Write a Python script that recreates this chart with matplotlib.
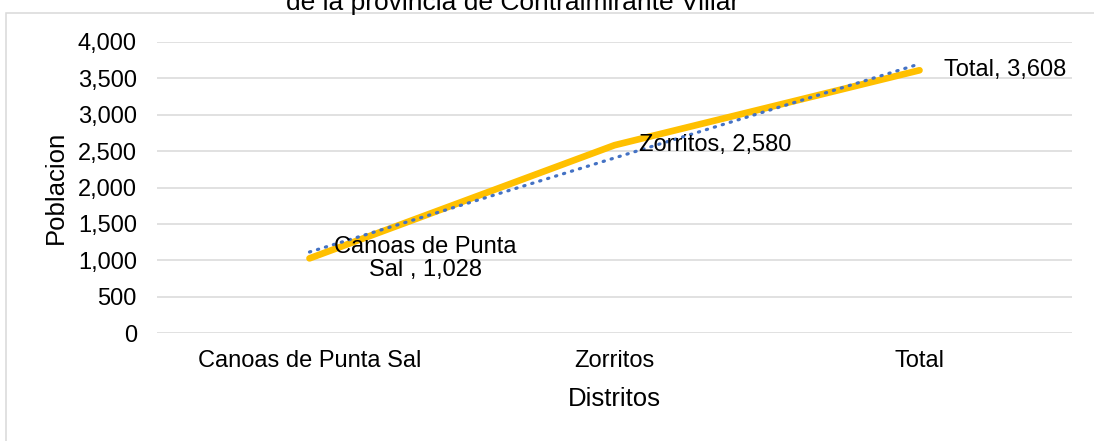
import matplotlib
matplotlib.use("Agg")
import matplotlib.pyplot as plt
from matplotlib.patches import Rectangle
import numpy as np

plt.rcParams["font.family"] = ["Liberation Sans", "DejaVu Sans"]

# data
districts = ["Canoas de Punta Sal", "Zorritos", "Total"]
population = [1028, 2580, 3608]
label_texts = ["Canoas de Punta\nSal , 1,028", "Zorritos, 2,580", "Total, 3,608"]
y_ticks = [0, 500, 1000, 1500, 2000, 2500, 3000, 3500, 4000]

YELLOW = "#FFC000"
BLUE = "#4472C4"
GRID = "#D9D9D9"
FS = 17

fig = plt.figure(figsize=(10.94, 4.41), dpi=100)
ax = fig.add_axes([157 / 1094, 1 - 333.3 / 441, 915 / 1094, 291.6 / 441])

# outer chart border (runs off the right and bottom edge)
fig.patches.append(Rectangle((6 / 1094, -0.2), 1.2, 0.2 + (1 - 12.7 / 441),
                             transform=fig.transFigure, fill=False,
                             edgecolor=GRID, lw=1.1))

x = np.arange(len(districts))
ax.plot(x, population, color=YELLOW, lw=4.8, solid_capstyle="round",
        solid_joinstyle="round", zorder=3)

# linear trendline (least squares, as Excel does it)
slope, icpt = np.polyfit(x, population, 1)
ax.plot(x, slope * x + icpt, color=BLUE, lw=2.3, linestyle=(0, (0.4, 2.2)),
        dash_capstyle="round", zorder=4)

for xi, yi, txt in zip(x, population, label_texts):
    ax.annotate(txt, (xi, yi), xytext=(17.5, 0), textcoords="offset points",
                ha="left", va="center", multialignment="center",
                fontsize=FS, color="black", linespacing=1.1, zorder=5)

ax.set_xlim(-0.5, 2.5)
ax.set_ylim(0, 4000)
ax.set_yticks(y_ticks)
ax.set_yticklabels([f"{v:,}" for v in y_ticks])
ax.set_xticks(x)
ax.set_xticklabels(districts)
ax.tick_params(axis="both", length=0, labelsize=FS, colors="black")
ax.tick_params(axis="y", pad=14.5)
ax.tick_params(axis="x", pad=12)
ax.grid(axis="y", color=GRID, lw=1.1)
ax.set_axisbelow(True)
for s in ax.spines.values():
    s.set_visible(False)

ax.set_xlabel("Distritos", fontsize=18.5, labelpad=10.5)
ax.set_ylabel("Poblacion", fontsize=18.5, labelpad=7)

fig.text(512.5 / 1094, 1 - 10 / 441, "de la provincia de Contralmirante Villar",
         ha="center", va="baseline", fontsize=19, color="black")

fig.savefig("out.png", dpi=100)
